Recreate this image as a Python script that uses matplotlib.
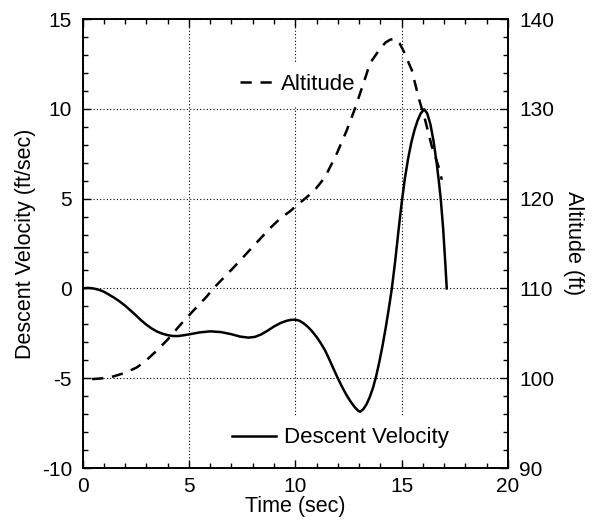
import matplotlib
matplotlib.use("Agg")
import matplotlib.pyplot as plt
from matplotlib.ticker import MultipleLocator

plt.rcParams['font.family'] = ['Liberation Sans', 'DejaVu Sans']
plt.rcParams['axes.unicode_minus'] = False

# descent velocity (ft/sec) vs time (sec)
vel_t = [0.0, 0.25, 0.5, 0.75, 1.0, 1.25, 1.5, 1.75, 2.0, 2.25, 2.5, 2.75,
         3.0, 3.25, 3.5, 3.75, 4.0, 4.25, 4.5, 4.75, 5.0, 5.5, 6.0, 6.5,
         7.0, 7.4, 7.8, 8.1, 8.4, 8.7, 9.0, 9.3, 9.6, 9.8, 10.0, 10.2, 10.4,
         10.6, 10.8, 11.0, 11.2, 11.4, 11.6, 11.8, 12.0, 12.2, 12.4, 12.6,
         12.8, 12.95, 13.05, 13.2, 13.35, 13.5, 13.65, 13.8, 13.95, 14.1,
         14.25, 14.4, 14.54, 14.7, 14.85, 15.0, 15.15, 15.3, 15.45, 15.6,
         15.75, 15.9, 16.06, 16.2, 16.35, 16.5, 16.65, 16.75, 16.84, 16.95,
         17.05, 17.12]
vel_v = [0.0, 0.03, 0.0, -0.07, -0.18, -0.35, -0.53, -0.73, -0.96, -1.22,
         -1.49, -1.77, -2.02, -2.23, -2.4, -2.52, -2.6, -2.65, -2.65, -2.61,
         -2.56, -2.45, -2.39, -2.43, -2.55, -2.68, -2.74, -2.7, -2.56, -2.35,
         -2.12, -1.93, -1.8, -1.75, -1.74, -1.8, -1.95, -2.15, -2.4, -2.7,
         -3.05, -3.45, -3.95, -4.48, -5.0, -5.48, -5.92, -6.3, -6.62, -6.8,
         -6.87, -6.72, -6.45, -6.05, -5.55, -4.9, -4.1, -3.2, -2.2, -1.1,
         0.0, 1.55, 3.2, 4.75, 6.1, 7.2, 8.1, 8.8, 9.35, 9.75, 9.97, 9.75,
         9.15, 8.2, 6.95, 5.95, 4.95, 3.35, 1.45, 0.0]

# altitude (ft) vs time (sec)
alt_t = [0.45, 1.0, 1.45, 2.0, 2.55, 3.0, 3.5, 4.0, 4.58, 5.2, 5.84, 6.15,
         7.09, 7.95, 8.81, 9.3, 9.76, 10.0, 10.46, 10.9, 11.4, 11.95, 12.42,
         12.81, 13.2, 13.52, 13.99, 14.25, 14.46, 14.69, 14.9, 15.08, 15.48,
         15.79, 16.1, 16.42, 16.73, 16.89]
alt_h = [99.9, 100.0, 100.2, 100.6, 101.2, 102.0, 103.1, 104.3, 105.9,
         107.5, 109.1, 110.0, 112.3, 114.5, 116.7, 117.8, 118.6, 119.1,
         120.0, 120.9, 122.4, 125.0, 127.6, 130.05, 132.8, 135.1, 136.7,
         137.4, 137.7, 137.8, 137.3, 136.5, 134.3, 131.3, 128.8, 125.8,
         123.6, 122.1]

fig = plt.figure(figsize=(5.95, 5.21), dpi=100)
ax = fig.add_axes([0.1387, 0.1017, 0.7151, 0.8618])
ax2 = ax.twinx()

lw = 1.8
vline, = ax.plot(vel_t, vel_v, color='black', lw=lw,
                 solid_joinstyle='round', label='Descent Velocity')
aline, = ax2.plot(alt_t, alt_h, color='black', lw=lw,
                  linestyle=(0, (4.5, 3.5)), label='Altitude', zorder=6)

ax.set_xlim(0, 20)
ax.set_ylim(-10, 15)
ax2.set_ylim(90, 140)

ax.xaxis.set_major_locator(MultipleLocator(5))
ax.xaxis.set_minor_locator(MultipleLocator(1))
ax.yaxis.set_major_locator(MultipleLocator(5))
ax.yaxis.set_minor_locator(MultipleLocator(1))
ax2.yaxis.set_major_locator(MultipleLocator(10))
ax2.yaxis.set_minor_locator(MultipleLocator(2))

ax.grid(True, which='major', color='black', linestyle=(0, (1, 2)), lw=0.8)

ax.tick_params(which='both', direction='in', top=True, right=False,
               labelsize=15, width=1)
ax.tick_params(which='major', length=6)
ax.tick_params(which='minor', length=3.5)
ax.tick_params(axis='y', pad=7.5)
ax.tick_params(axis='x', pad=6.5)
ax2.tick_params(which='both', direction='in', labelsize=15, width=1, pad=8)
ax2.tick_params(which='major', length=6)
ax2.tick_params(which='minor', length=3.5)

for a in (ax, ax2):
    for s in a.spines.values():
        s.set_linewidth(1.2)

ax.set_xlabel('Time (sec)', fontsize=15.5, labelpad=0)
ax.set_ylabel('Descent Velocity (ft/sec)', fontsize=15.5, labelpad=4)
ax2.set_ylabel('Altitude (ft)', fontsize=15.5, rotation=270,
               va='bottom', labelpad=6)

leg_kw = dict(loc='center', frameon=True, fancybox=False, framealpha=1,
              facecolor='white', edgecolor='none', fontsize=16,
              handletextpad=0.35, borderpad=0.5)
ax2.legend([aline], ['Altitude'], bbox_to_anchor=(0.506, 0.855),
           handlelength=1.5, **leg_kw)
ax.legend([vline], ['Descent Velocity'], bbox_to_anchor=(0.606, 0.067),
          handlelength=2.0, **leg_kw)

fig.savefig('out.png', dpi=100)
